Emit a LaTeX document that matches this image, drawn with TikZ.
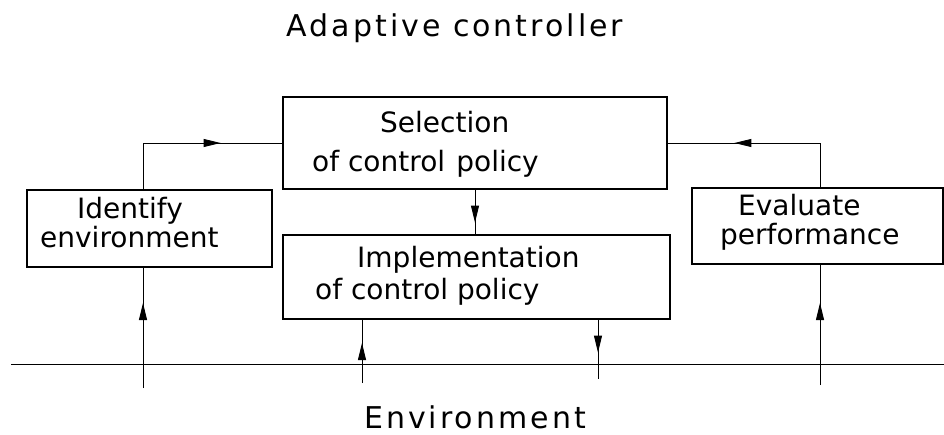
\documentclass[tikz,border=0pt]{standalone}
\usepackage{fontspec}
\setmainfont{DejaVu Sans}
\usetikzlibrary{arrows.meta,decorations.markings}

\begin{document}
\begin{tikzpicture}[x=1pt, y=-1pt,
  box/.style={draw, line width=1.2pt, inner sep=0pt},
  txt/.style={inner sep=0pt, anchor=base west, font=\fontsize{28}{34}\selectfont},
  big/.style={inner sep=0pt, anchor=base,
              font=\fontsize{30}{36}\selectfont\addfontfeature{LetterSpace=10}},
  line/.style={draw, line width=0.9pt},
  tip/.style={postaction={decorate},
              decoration={markings, mark=at position #1 with {\arrow{Triangle[length=17pt,width=8pt]}}}}
]
\useasboundingbox (0,0) rectangle (944,435);

% Titles
\node[big] (title) at (455,37) {Adaptive controller};
\node[big] (env) at (475,428) {Environment};

% Boxes
\node[box, minimum width=384pt, minimum height=92pt] (sel) at (475,143) {};
\node[box, minimum width=387pt, minimum height=84pt] (impl) at (476.5,277) {};
\node[box, minimum width=245pt, minimum height=77pt] (ident) at (149.5,228.5) {};
\node[box, minimum width=251pt, minimum height=76pt] (eval) at (817.5,226) {};

% Box texts
\node[txt] (selA) at (380,133) {Selection};
\node[txt] (selB) at (312,172) {of control\hspace{0.4em}policy};
\node[txt] (implA) at (357,268) {Implementation};
\node[txt] (implB) at (315,300) {of control policy};
\node[txt] (identA) at (77,219) {Identify};
\node[txt] (identB) at (40,248) {environment};
\node[txt] (evalA) at (738,216) {Evaluate};
\node[txt] (evalB) at (720,245) {performance};

% Environment line and its taps
\coordinate (envW) at (11,364);
\coordinate (envE) at (944,364);
\coordinate (inL) at (143,388);
\coordinate (inR) at (820,385);
\coordinate (act) at (362,383);
\coordinate (out) at (598,379);
\draw[line] (envW) -- (envE);

% Connections
\draw[line, tip=85pt] (inL) -- (inL |- ident.south);
\draw[line, tip=124pt] (inL |- ident.north) |- (sel.west);
\draw[line, tip=82pt] (inR) -- (inR |- eval.south);
\draw[line, tip=130pt] (inR |- eval.north) |- (sel.east);
\draw[line, tip=33pt] (sel.south) -- (sel.south |- impl.north);
\draw[line, tip=40pt] (act) -- (act |- impl.south);
\draw[line, tip=33pt] (out |- impl.south) -- (out);

\end{tikzpicture}
\end{document}
